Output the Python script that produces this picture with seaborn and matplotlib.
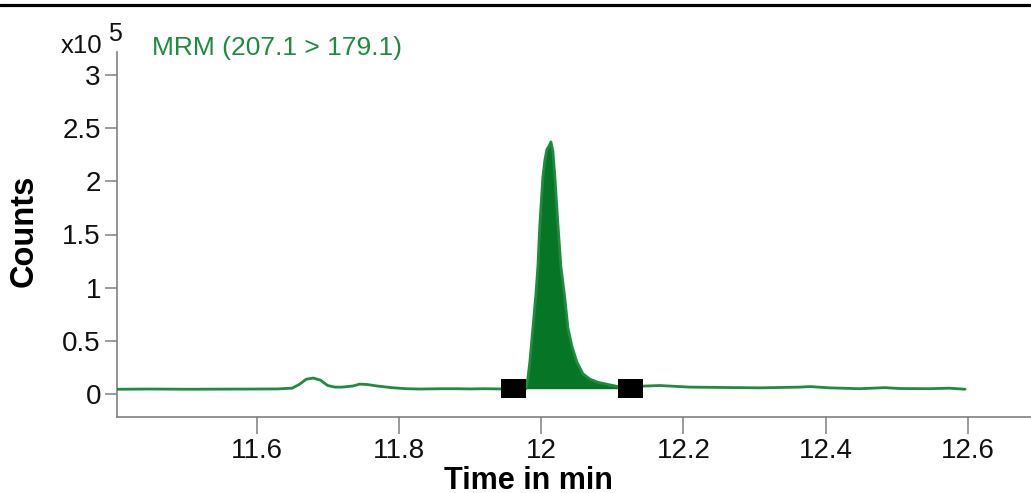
import numpy as np
import pandas as pd
import matplotlib
matplotlib.use("Agg")
import matplotlib.pyplot as plt
from matplotlib.lines import Line2D
import seaborn as sns

# ---- data (counts in units of 1e5) ----
time_min = [11.404, 11.45, 11.50, 11.55, 11.60, 11.63, 11.65, 11.66, 11.67, 11.68,
            11.69, 11.70, 11.71, 11.72, 11.735, 11.745, 11.755, 11.77, 11.79, 11.81,
            11.83, 11.86, 11.88, 11.90, 11.92, 11.94, 11.96, 11.975,
            11.9786, 11.9815, 11.9843, 11.9885, 11.9927, 11.9955, 11.9983, 12.0025,
            12.0053, 12.0081, 12.0110, 12.0138, 12.0166, 12.0194, 12.0236, 12.0278,
            12.0306, 12.0334, 12.0377, 12.0433, 12.0503, 12.0588, 12.0686, 12.0799,
            12.0939, 12.1080, 12.125, 12.146, 12.167, 12.181, 12.209, 12.251,
            12.308, 12.364, 12.378, 12.406, 12.448, 12.483, 12.504, 12.546,
            12.574, 12.596]
counts_e5 = [0.045, 0.047, 0.045, 0.046, 0.047, 0.048, 0.055, 0.09, 0.14, 0.15,
             0.13, 0.08, 0.065, 0.065, 0.075, 0.093, 0.09, 0.075, 0.06, 0.05,
             0.047, 0.05, 0.05, 0.048, 0.05, 0.048, 0.05, 0.05,
             0.05, 0.15, 0.31, 0.62, 0.94, 1.20, 1.60, 2.04,
             2.20, 2.30, 2.33, 2.37, 2.28, 2.04, 1.60, 1.20,
             1.05, 0.90, 0.62, 0.45, 0.30, 0.19, 0.14, 0.11,
             0.09, 0.07, 0.065, 0.075, 0.08, 0.075, 0.065, 0.062,
             0.058, 0.065, 0.07, 0.058, 0.05, 0.06, 0.052, 0.05,
             0.055, 0.045]
peak_bounds = [11.961, 12.1255]
peak_bound_levels = [0.052, 0.052]
fill_range = [11.9786, 12.108]
fill_base = 0.05

x_ticks = [11.6, 11.8, 12.0, 12.2, 12.4, 12.6]
x_tick_labels = ["11.6", "11.8", "12", "12.2", "12.4", "12.6"]
y_ticks = [0, 0.5, 1, 1.5, 2, 2.5, 3]
y_tick_labels = ["0", "0.5", "1", "1.5", "2", "2.5", "3"]

title_text = "MRM (207.1 > 179.1)"

LINE = "#1f8b3f"
FILL = "#067526"
GRAY = "#808080"

sns.set_theme(style="white")
plt.rcParams['font.family'] = ['Liberation Sans', 'DejaVu Sans']

W, H = 1031, 493
fig = plt.figure(figsize=(W / 100, H / 100), dpi=100)
ax = fig.add_axes([117 / W, 1 - 417 / H, 1 - 117 / W, (417 - 52) / H])

df = pd.DataFrame({"t": time_min, "c": counts_e5})
sns.lineplot(data=df, x="t", y="c", ax=ax, color=LINE, lw=2.0, zorder=3)

mask = (df["t"] >= fill_range[0]) & (df["t"] <= fill_range[1])
ax.fill_between(df["t"][mask], fill_base, df["c"][mask], color=FILL, lw=0, zorder=2)

rect = [(-1, -0.76), (1, -0.76), (1, 0.76), (-1, 0.76), (-1, -0.76)]
ax.scatter(peak_bounds, peak_bound_levels, marker=rect, s=18 ** 2, color="black",
           linewidths=0, zorder=5)

ax.set_xlim(11.4038, 12.6887)
ax.set_ylim(-0.216, 3.216)
ax.set_xticks(x_ticks)
ax.set_xticklabels(x_tick_labels)
ax.set_yticks(y_ticks)
ax.set_yticklabels(y_tick_labels)

for s in ["top", "right"]:
    ax.spines[s].set_visible(False)
for s in ["left", "bottom"]:
    ax.spines[s].set_color(GRAY)
    ax.spines[s].set_linewidth(1.2)

ax.tick_params(axis="x", bottom=True, direction="out", length=12, width=1.1,
               color=GRAY, labelsize=20, pad=3, labelcolor="#111111")
ax.tick_params(axis="y", left=True, direction="out", length=8.6, width=1.1,
               color=GRAY, labelsize=20, pad=3, labelcolor="#111111")

ax.set_xlabel("Time in min", fontsize=22, fontweight="bold", color="black")
ax.xaxis.set_label_coords(0.45, -0.134)
ax.set_ylabel("Counts", fontsize=23.5, fontweight="bold", color="black")
ax.yaxis.set_label_coords(-0.085, 0.51)

fig.text(152 / W, 1 - 55 / H, title_text, color=LINE, fontsize=19,
         ha="left", va="baseline")
fig.text(61 / W, 1 - 53 / H, "x10", color="#111111", fontsize=18.5,
         ha="left", va="baseline")
fig.text(108 / W, 1 - 41 / H, "5", color="#111111", fontsize=18,
         ha="left", va="baseline")

fig.add_artist(Line2D([0, 1], [1 - 4.7 / H, 1 - 4.7 / H], transform=fig.transFigure,
                      color="black", lw=2.3))

fig.savefig("out.png", dpi=100)
